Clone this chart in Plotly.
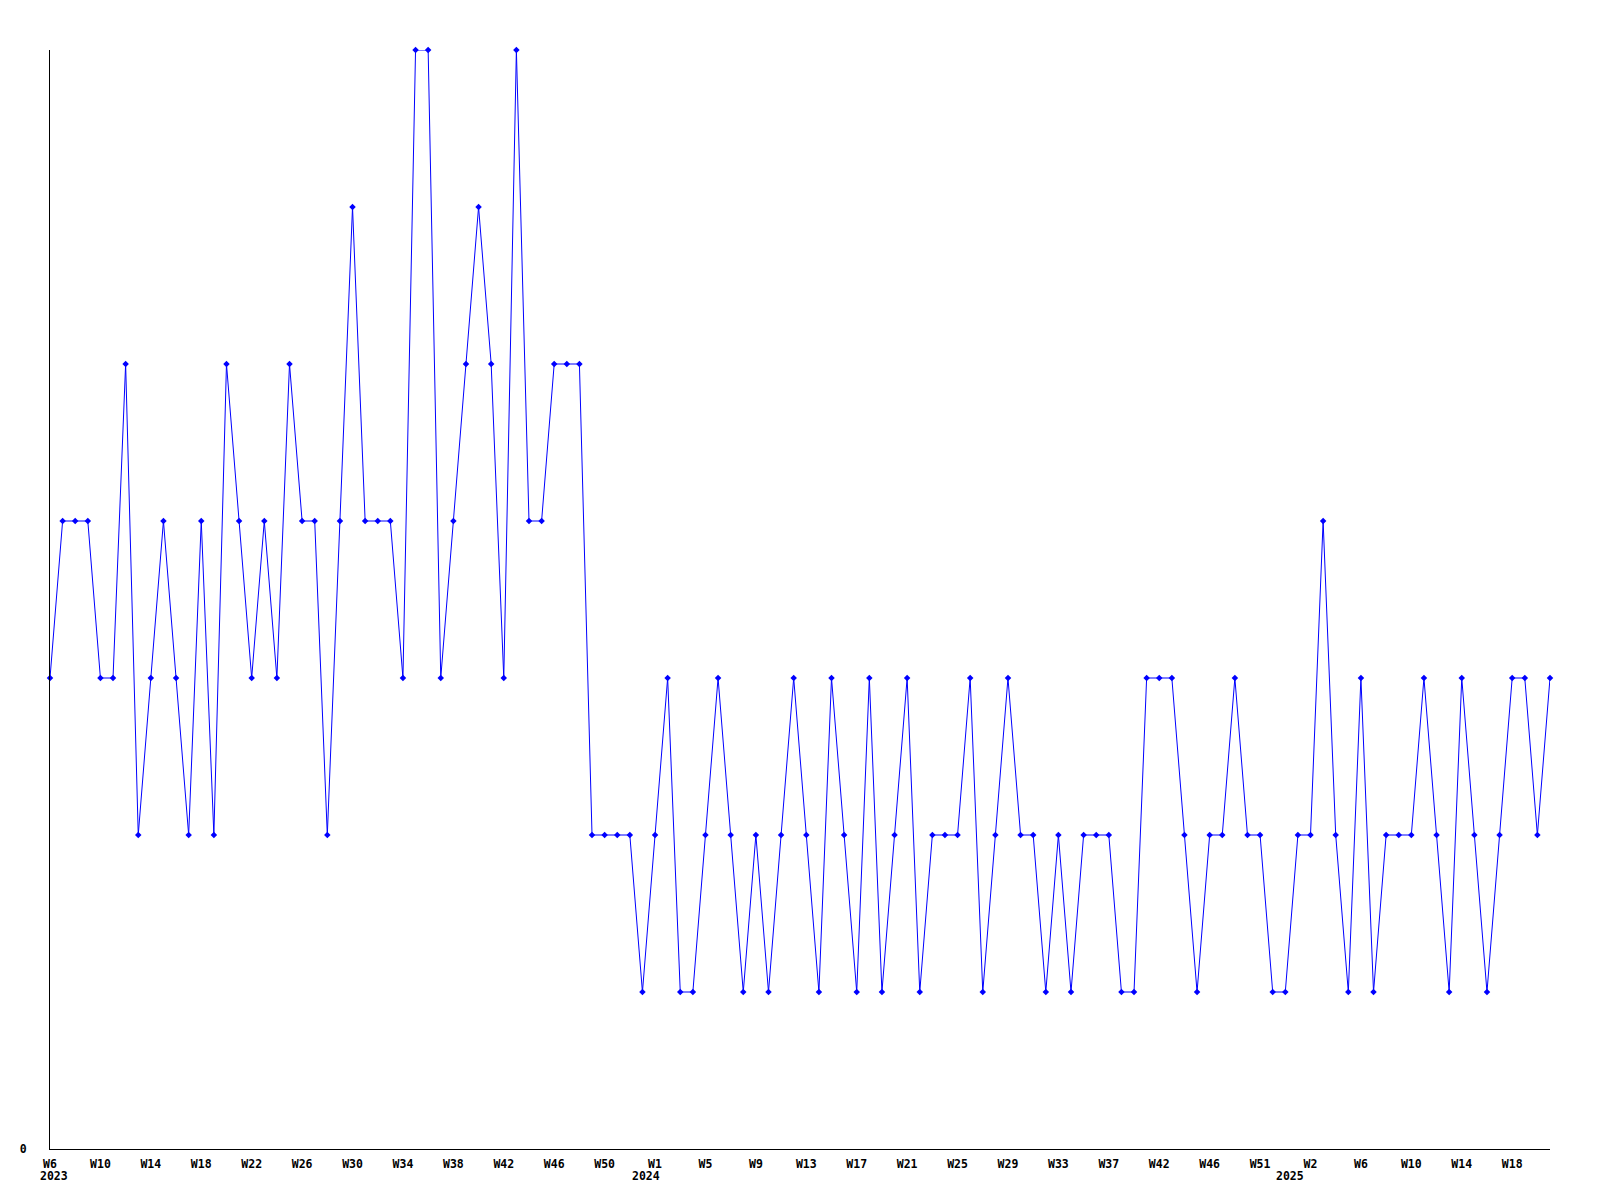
import plotly.graph_objects as go

# Weekly values, starting at W6 2023 (one value per plotted week)
values = [
    3, 4, 4, 4, 3, 3, 5, 2, 3, 4, 3, 2, 4, 2, 5, 4, 3, 4, 3, 5,
    4, 4, 2, 4, 6, 4, 4, 4, 3, 7, 7, 3, 4, 5, 6, 5, 3, 7, 4, 4,
    5, 5, 5,
    2, 2, 2, 2, 1, 2, 3, 1, 1, 2, 3, 2, 1, 2, 1, 2, 3, 2, 1, 3,
    2, 1, 3, 1, 2, 3, 1, 2, 2, 2, 3, 1, 2, 3, 2, 2, 1, 2, 1,
    2, 2, 2, 1, 1, 3, 3, 3, 2, 1, 2, 2, 3, 2, 2, 1, 1, 2, 2, 4,
    2, 1, 3, 1, 2, 2, 2, 3, 2, 1, 3, 2, 1, 2, 3, 3, 2, 3,
]

# Week tick labels, one every 4 plotted weeks
tick_labels = [
    "W6", "W10", "W14", "W18", "W22", "W26", "W30", "W34", "W38", "W42",
    "W46", "W50", "W1", "W5", "W9", "W13", "W17", "W21", "W25", "W29",
    "W33", "W37", "W42", "W46", "W51", "W2", "W6", "W10", "W14", "W18",
]
tick_step = 4

# Year labels and where they sit along the week axis
year_labels = ["2023", "2024", "2025"]
year_pos = [0.3, 47.3, 98.4]

x = list(range(len(values)))
tickvals = [i * tick_step for i in range(len(tick_labels))]

FONT = "DejaVu Sans Mono"

fig = go.Figure()
fig.add_trace(go.Scatter(
    x=x, y=values,
    mode="lines+markers",
    line=dict(color="#0000ff", width=1),
    marker=dict(symbol="diamond", size=5, color="#0000ff"),
    cliponaxis=False,
    hoverinfo="skip",
))

for lab, pos in zip(year_labels, year_pos):
    fig.add_annotation(
        x=pos, y=0, xref="x", yref="y",
        text=lab, showarrow=False,
        yshift=-27, xanchor="center", yanchor="middle",
        font=dict(family=FONT, size=11.5, color="black", weight="bold"),
    )

fig.update_layout(
    width=1600, height=1200,
    margin=dict(l=42, r=58, t=42, b=59, autoexpand=False),
    paper_bgcolor="white", plot_bgcolor="white",
    showlegend=False,
    font=dict(family=FONT, size=11.5, color="black"),
)
fig.update_xaxes(
    range=[0, len(values) - 1],
    tickmode="array", tickvals=tickvals, ticktext=tick_labels,
    showgrid=False, zeroline=False,
    showline=True, linecolor="black", linewidth=1,
    ticks="outside", ticklen=4, tickcolor="rgba(0,0,0,0)",
    tickfont=dict(family=FONT, size=11.5, color="black", weight="bold"),
    tickangle=0,
)
fig.update_yaxes(
    range=[0, 7],
    tickmode="array", tickvals=[0], ticktext=["0"],
    showgrid=False, zeroline=False,
    showline=True, linecolor="black", linewidth=1,
    ticks="outside", ticklen=20, tickcolor="rgba(0,0,0,0)",
    tickfont=dict(family=FONT, size=11.5, color="black", weight="bold"),
)

fig.write_html("out.html")
